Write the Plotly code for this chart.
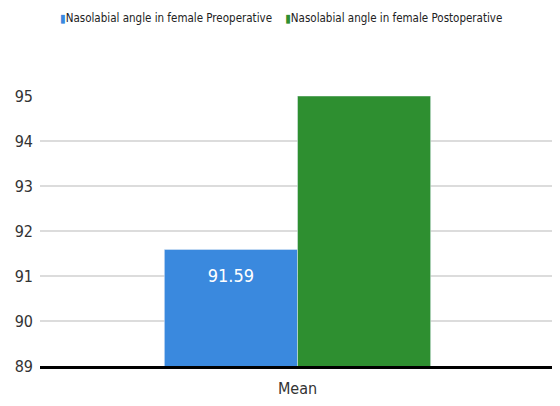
import plotly.graph_objects as go

categories = ["Mean"]
series_names = ["Nasolabial angle in female Preoperative", "Nasolabial angle in female Postoperative"]
series_colors = ["#3a89de", "#2e8f30"]
preop = [91.59]
postop = [95.0]
y_ticks = [89, 90, 91, 92, 93, 94, 95]

FONT = "Liberation Sans Narrow, DejaVu Sans Condensed, sans-serif"

fig = go.Figure()
fig.add_trace(go.Bar(
    x=categories, y=preop, name=series_names[0],
    marker=dict(color=series_colors[0]),
    text=[f"<span style='font-size:7px'> </span><br>{v:.2f}" for v in preop],
    textposition="inside", insidetextanchor="end", textangle=0,
    textfont=dict(color="white", size=18, family=FONT),
    showlegend=False,
))
fig.add_trace(go.Bar(
    x=categories, y=postop, name=series_names[1],
    marker=dict(color=series_colors[1]),
    textposition="none",
    showlegend=False,
))

legend_text = "&nbsp;&nbsp;&nbsp;&nbsp;".join(
    f"<span style='color:{c}'>▮</span>{n}" for n, c in zip(series_names, series_colors)
)
fig.add_annotation(
    text=legend_text, xref="paper", yref="paper", x=0.468, y=1.289,
    xanchor="center", yanchor="middle", showarrow=False,
    font=dict(size=11.5, color="#222222", family=FONT),
)

fig.update_layout(
    width=560, height=406,
    margin=dict(l=32, r=13, t=88, b=48, autoexpand=False),
    paper_bgcolor="white", plot_bgcolor="white",
    barmode="group", bargap=0.483, bargroupgap=0,
    font=dict(family=FONT, size=15, color="#333333"),
)
fig.update_yaxes(range=[89, 95], tickvals=y_ticks, showgrid=True, gridcolor="#dcdcdc",
                 gridwidth=1.5, zeroline=False, showline=False, ticks="",
                 ticklabelstandoff=6,
                 tickfont=dict(size=16, color="#333333"))
fig.update_xaxes(showline=True, linecolor="black", linewidth=2.5, ticks="",
                 ticklabelstandoff=6,
                 tickfont=dict(size=16, color="#333333"))

fig.write_html("out.html")
